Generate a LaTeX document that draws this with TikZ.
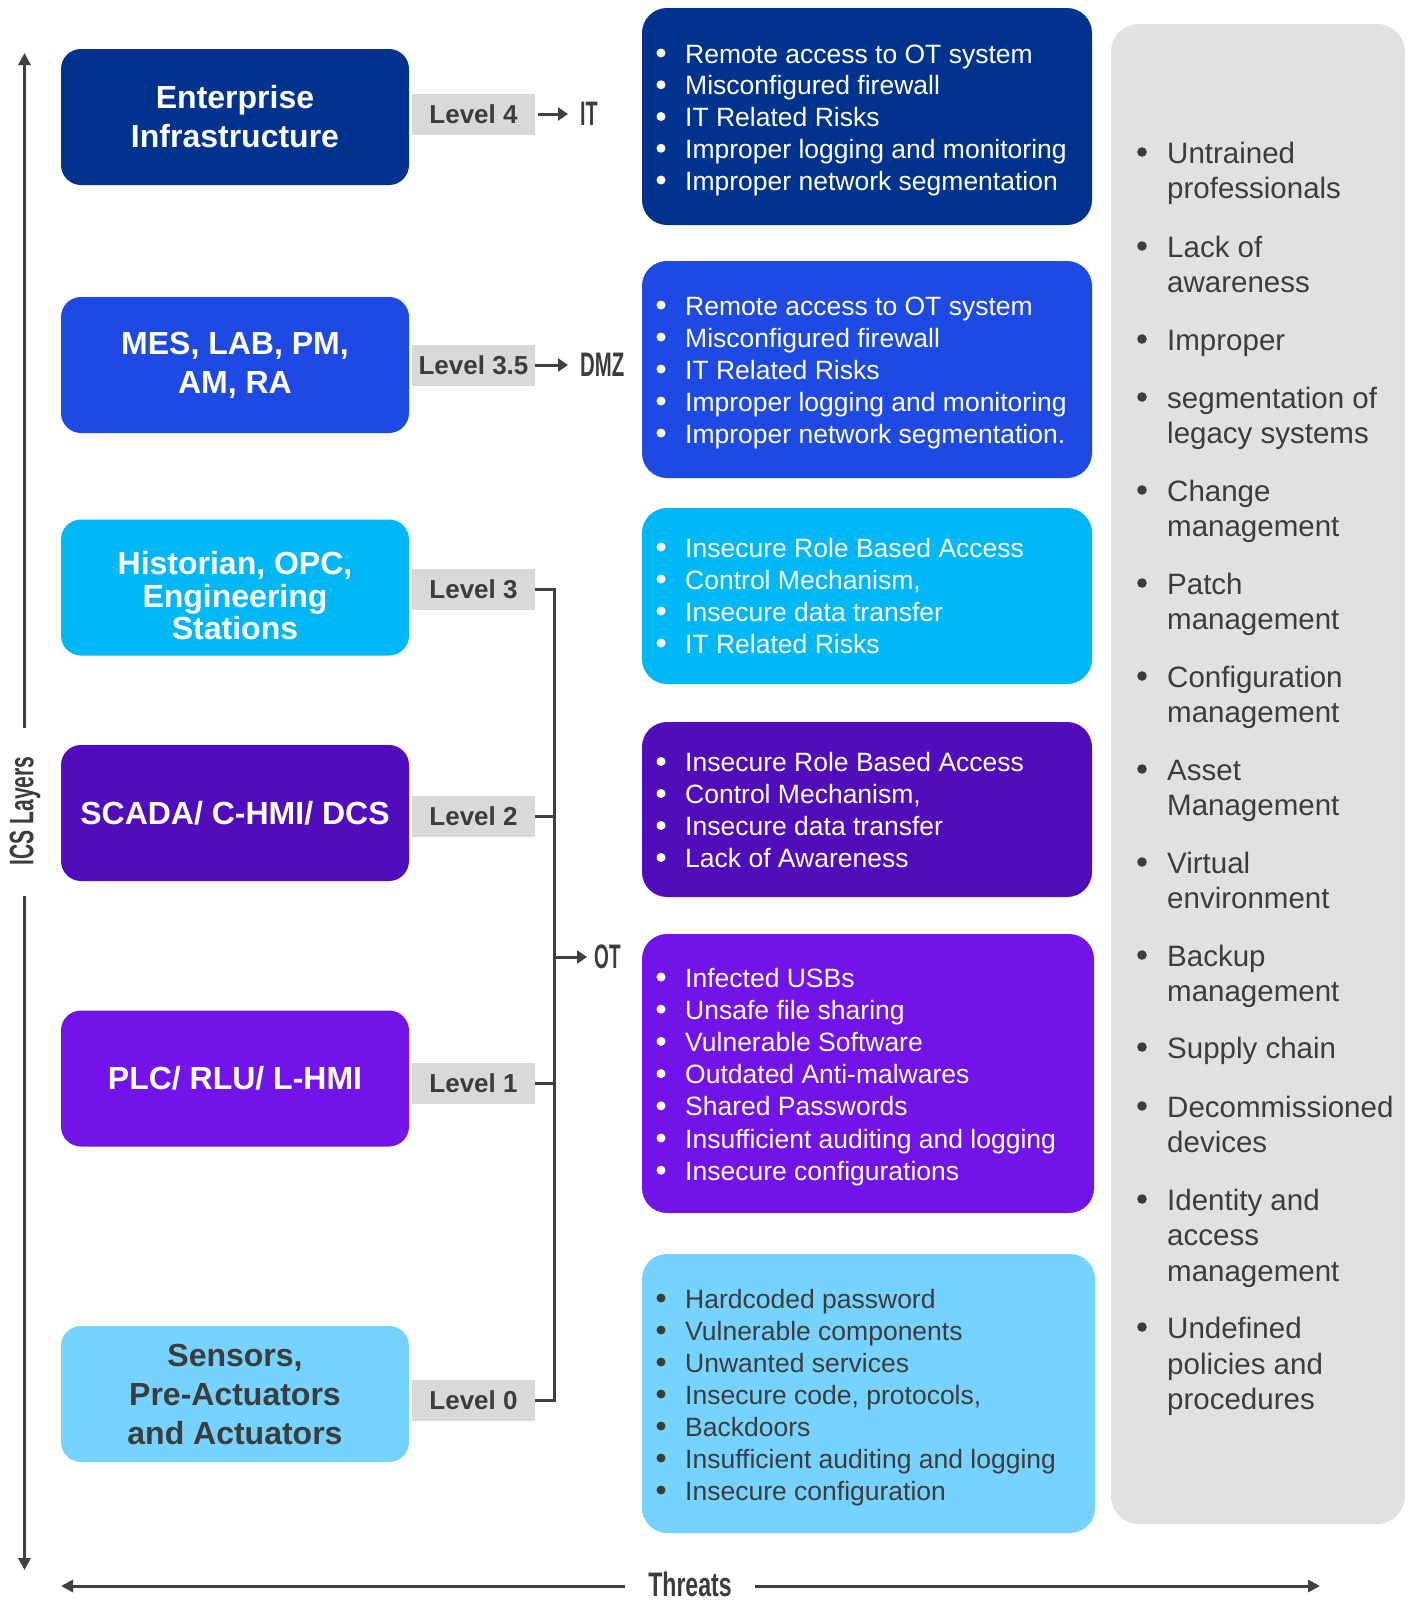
\documentclass[tikz,border=0pt]{standalone}
\usepackage{fontspec}
\usepackage{graphicx}
\setmainfont{Liberation Sans}
\usetikzlibrary{arrows.meta}
\definecolor{kdark}{HTML}{00338D}
\definecolor{kcobalt}{HTML}{1E49E2}
\definecolor{klight}{HTML}{00B8F5}
\definecolor{kpurpdark}{HTML}{510DBC}
\definecolor{kpurple}{HTML}{7213EA}
\definecolor{kpacific}{HTML}{76D2FF}
\definecolor{panelgray}{HTML}{E1E1E1}
\definecolor{lvlgray}{HTML}{D9D9D9}
\definecolor{txtdark}{HTML}{3C3C3C}
\definecolor{linegray}{HTML}{404040}
\tikzset{
  lbox/.style={rounded corners=20pt, minimum width=348pt, minimum height=136pt, inner sep=0pt,
    text=white, align=center, font=\bfseries\fontsize{32}{39}\selectfont},
  lvl/.style={fill=lvlgray, minimum width=123pt, minimum height=41pt, inner sep=0pt,
    text=txtdark, font=\bfseries\fontsize{26}{30}\selectfont},
  rbox/.style={rounded corners=25pt, inner sep=0pt, minimum width=450pt},
  item/.style={anchor=base west, inner sep=0pt, font=\fontsize{26.5}{32}\selectfont},
  gitem/.style={anchor=base west, inner sep=0pt, text=txtdark, font=\fontsize{29.5}{35}\selectfont},
  cond/.style={inner sep=0pt, text=txtdark, font=\bfseries\fontsize{34}{40}\selectfont},
  conn/.style={draw=linegray, line width=3pt},
  axis/.style={conn, -{Triangle[length=12pt,width=12pt]}},
  arr/.style={conn, -{Triangle[length=10pt,width=13pt]}},
}
\begin{document}
\begin{tikzpicture}[x=1pt,y=-1pt]
\useasboundingbox (0,0) rectangle (1413,1601);
\fill[white] (0,0) rectangle (1413,1601);

% right gray panel
\node[fill=panelgray, rounded corners=28pt, minimum width=294pt, minimum height=1500pt, inner sep=0pt] (panel) at (1258,774) {};

% left layer boxes
\node[lbox, fill=kdark] (b4) at (235,117) {Enterprise\\Infrastructure};
\node[lbox, fill=kcobalt] (b35) at (235,365) {MES, LAB, PM,\\AM, RA};
\node[lbox, fill=klight] (b3) at (235,587.5) {};
\node[inner sep=0pt, text=white, align=center, font=\bfseries\fontsize{32}{32.5}\selectfont] (b3t) at (235,596) {Historian, OPC,\\Engineering\\Stations};
\node[lbox, fill=kpurpdark] (b2) at (235,813) {SCADA/ C-HMI/ DCS};
\node[lbox, fill=kpurple] (b1) at (235,1078.5) {PLC/ RLU/ L-HMI};
\node[lbox, fill=kpacific, text=txtdark] (b0) at (235,1394) {Sensors,\\Pre-Actuators\\and Actuators};

% level labels
\node[lvl] (l4) at (473.5,114) {Level 4};
\node[lvl] (l35) at (473.5,365) {Level 3.5};
\node[lvl] (l3) at (473.5,589) {Level 3};
\node[lvl] (l2) at (473.5,816) {Level 2};
\node[lvl] (l1) at (473.5,1083) {Level 1};
\node[lvl] (l0) at (473.5,1400) {Level 0};

% IT / DMZ / OT
\node[cond, anchor=west] (it) at (580,114) {\scalebox{0.58}[1]{IT}};
\node[cond, anchor=west] (dmz) at (580,365) {\scalebox{0.6}[1]{DMZ}};
\node[cond, anchor=west] (ot) at (594,957) {\scalebox{0.56}[1]{OT}};
\draw[arr, shorten <=3pt, shorten >=12pt] (l4.east) -- (it.west);
\draw[arr, shorten >=12pt] (l35.east) -- (dmz.west);

\coordinate (bt) at (554,589);
\coordinate (bb) at (554,1400);
\coordinate (bo) at (554,957);
\draw[conn] (l3.east) -- (bt) -- (bb) -- (l0.east);
\draw[conn] (l2.east) -- (l2.east -| bt);
\draw[conn] (l1.east) -- (l1.east -| bt);
\draw[arr, shorten >=7pt] (bo) -- (ot.west);

% threat boxes
\node[rbox, fill=kdark, minimum height=217pt] (t4) at (867,116.5) {};
\node[rbox, fill=kcobalt, minimum height=217pt] (t35) at (867,369.5) {};
\node[rbox, fill=klight, minimum height=176pt] (t3) at (867,596) {};
\node[rbox, fill=kpurpdark, minimum height=175pt] (t2) at (867,809.5) {};
\node[rbox, fill=kpurple, minimum width=452pt, minimum height=279pt] (t1) at (868,1073.5) {};
\node[rbox, fill=kpacific, minimum width=453pt, minimum height=279pt] (t0) at (868.5,1393.5) {};

\foreach \t [count=\i from 0] in {Remote access to OT system, Misconfigured firewall, IT Related Risks, Improper logging and monitoring, Improper network segmentation}{
  \node[item, text=white] (r4-\i) at (685,{63+31.75*\i}) {\t};
  \fill[white] (661,{53+31.75*\i}) circle (4.5pt);}
\foreach \t [count=\i from 0] in {Remote access to OT system, Misconfigured firewall, IT Related Risks, Improper logging and monitoring, Improper network segmentation.}{
  \node[item, text=white] (r35-\i) at (685,{315+32*\i}) {\t};
  \fill[white] (661,{305+32*\i}) circle (4.5pt);}
\foreach \t [count=\i from 0] in {Insecure Role Based Access, {Control Mechanism,}, Insecure data transfer, IT Related Risks}{
  \node[item, text=white] (r3-\i) at (685,{557+32*\i}) {\t};
  \fill[white] (661,{547+32*\i}) circle (4.5pt);}
\foreach \t [count=\i from 0] in {Insecure Role Based Access, {Control Mechanism,}, Insecure data transfer, Lack of Awareness}{
  \node[item, text=white] (r2-\i) at (685,{771.5+32*\i}) {\t};
  \fill[white] (661,{761.5+32*\i}) circle (4.5pt);}
\foreach \t [count=\i from 0] in {Infected USBs, Unsafe file sharing, Vulnerable Software, Outdated Anti-malwares, Shared Passwords, Insufficient auditing and logging, Insecure configurations}{
  \node[item, text=white] (r1-\i) at (685,{987+32.2*\i}) {\t};
  \fill[white] (661,{977+32.2*\i}) circle (4.5pt);}
\foreach \t [count=\i from 0] in {Hardcoded password, Vulnerable components, Unwanted services, {Insecure code, protocols,}, Backdoors, Insufficient auditing and logging, Insecure configuration}{
  \node[item, text=txtdark] (r0-\i) at (685,{1308+32*\i}) {\t};
  \fill[txtdark] (661,{1298+32*\i}) circle (4.5pt);}

% gray panel list
\foreach \yy/\t [count=\i] in {163/Untrained, 257/Lack of, 350/Improper, 408/segmentation of, 501/Change, 594/Patch, 687/Configuration, 780/Asset, 873/Virtual, 966/Backup, 1058/Supply chain, 1117/Decommissioned, 1210/Identity and, 1338/Undefined}{
  \node[gitem] (g\i) at (1167,\yy) {\t};
  \fill[txtdark] (1142,{\yy-11}) circle (4.8pt);}
\foreach \yy/\t [count=\i] in {198/professionals, 292/awareness, 443/legacy systems, 536/management, 629/management, 722/management, 815/Management, 908/environment, 1001/management, 1152/devices, 1245/access, 1281/management, 1374/policies and, 1409/procedures}
  \node[gitem] (gc\i) at (1167,\yy) {\t};

% vertical axis
\node[cond, rotate=90] (ics) at (25,811) {\scalebox{0.62}[1]{ICS Layers}};
\coordinate (vg1) at (24.5,728);
\coordinate (vtop) at (24.5,53);
\coordinate (vg2) at (24.5,896);
\coordinate (vbot) at (24.5,1570);
\draw[axis] (vg1) -- (vtop);
\draw[axis] (vg2) -- (vbot);

% horizontal axis
\node[cond] (thr) at (690,1584.5) {\scalebox{0.68}[1]{Threats}};
\coordinate (hg1) at (625,1586);
\coordinate (hleft) at (61,1586);
\coordinate (hg2) at (755,1586);
\coordinate (hright) at (1320,1586);
\draw[axis] (hg1) -- (hleft);
\draw[axis] (hg2) -- (hright);
\end{tikzpicture}
\end{document}
